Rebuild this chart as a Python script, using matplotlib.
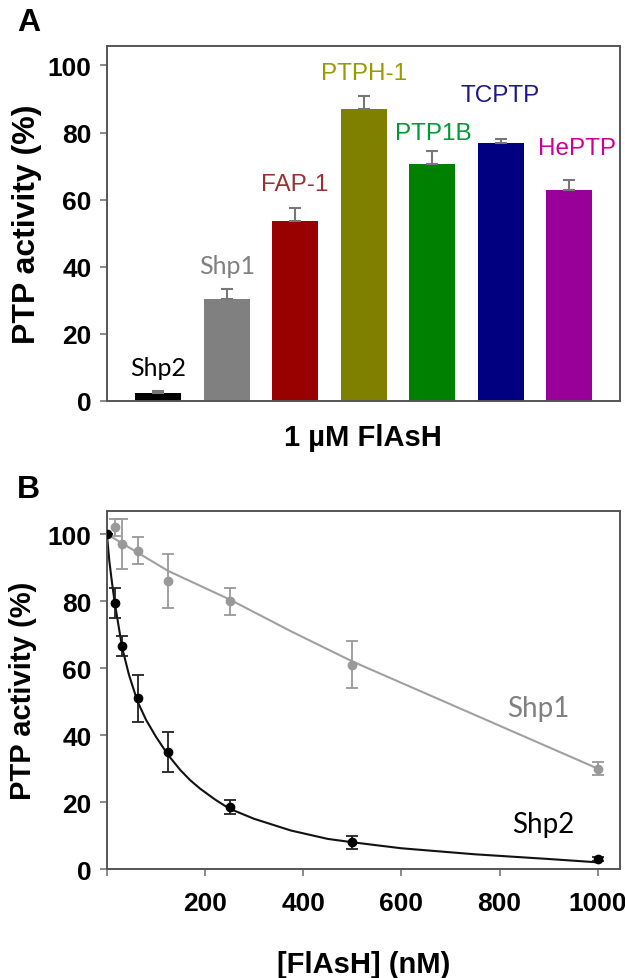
import matplotlib
matplotlib.use("Agg")
import matplotlib.pyplot as plt

plt.rcParams['font.family'] = ['Liberation Sans', 'DejaVu Sans']

# panel A data
enzymes = ['Shp2', 'Shp1', 'FAP-1', 'PTPH-1', 'PTP1B', 'TCPTP', 'HePTP']
activity = [2.5, 30.5, 53.5, 87.0, 70.5, 77.0, 63.0]
activity_err = [0.6, 3.0, 4.0, 4.0, 4.0, 1.0, 3.0]
bar_colors = ['#000000', '#808080', '#990000', '#808000', '#008000', '#000080', '#990099']
label_colors = ['#000000', '#808080', '#993333', '#999900', '#009933', '#1a1a8c', '#cc0099']
label_y = [6.5, 37, 61.5, 94.5, 76.5, 88, 72]
label_dx = [0, 0, 0, 0, 0.02, 0, 0.12]

# panel B data
conc = [0, 15.6, 31.25, 62.5, 125, 250, 500, 1000]
shp1 = [100, 102, 97, 95, 86, 80, 61, 30]
shp1_err = [0, 2.5, 7.5, 4, 8, 4, 7, 2]
shp2 = [100, 79.5, 66.5, 51, 35, 18.5, 8, 3]
shp2_err = [0, 4.5, 3, 7, 6, 2, 2, 0.5]

# fitted curves
fit1_x = [0, 62.5, 125, 250, 375, 500, 625, 750, 875, 1000]
fit1_y = [100, 94.5, 89, 80.5, 71, 62, 54, 46, 38, 30]
fit2_x = [0, 5, 10, 15.6, 20, 31.25, 45, 62.5, 80, 100, 125, 150, 170, 190, 220, 250,
          300, 375, 450, 500, 600, 750, 900, 1000]
fit2_y = [100, 92, 86, 80, 76, 66, 58, 50, 44.5, 39.5, 34, 29.5, 26.5, 24, 20.8, 18,
          15, 11.5, 9, 8, 6.2, 4.4, 3, 2]

fig = plt.figure(figsize=(6.25, 9.79), dpi=100)
spine_col = '#555555'
shp_font = ['Lato', 'DejaVu Sans']

# ---- panel A ----
axA = fig.add_axes([0.171, 0.5894, 0.8206, 0.3626])
xpos = list(range(len(enzymes)))
axA.bar(xpos, activity, width=0.67, color=bar_colors, zorder=2)
for i in xpos:
    axA.errorbar(i, activity[i], yerr=[[0], [activity_err[i]]], fmt='none',
                 ecolor='#777777', elinewidth=1.5, capsize=4, capthick=1.5, zorder=3)
    if enzymes[i].startswith('Shp'):
        axA.text(i + label_dx[i], label_y[i], enzymes[i], color=label_colors[i],
                 ha='center', va='bottom', fontsize=18, family=shp_font)
    else:
        axA.text(i + label_dx[i], label_y[i], enzymes[i], color=label_colors[i],
                 ha='center', va='bottom', fontsize=17.5)
axA.set_xlim(-0.75, 6.74)
axA.set_ylim(0, 105.8)
axA.set_yticks([0, 20, 40, 60, 80, 100])
axA.set_xticks([])
axA.set_ylabel('PTP activity (%)', fontsize=23, fontweight='bold', labelpad=4)
axA.set_xlabel('1 µM FlAsH', fontsize=21, fontweight='bold', labelpad=16)

# ---- panel B ----
axB = fig.add_axes([0.171, 0.1113, 0.8206, 0.3657])
axB.plot(fit1_x, fit1_y, color='#a0a0a0', lw=1.5, zorder=2)
axB.plot(fit2_x, fit2_y, color='#111111', lw=1.5, zorder=2)
axB.errorbar(conc, shp1, yerr=shp1_err, fmt='o', color='#999999', ms=6,
             ecolor='#999999', elinewidth=1.3, capsize=4, capthick=1.3, zorder=3)
axB.errorbar(conc, shp2, yerr=shp2_err, fmt='o', color='#000000', ms=6,
             ecolor='#222222', elinewidth=1.3, capsize=4, capthick=1.3, zorder=4)
axB.text(880, 48, 'Shp1', color='#808080', fontsize=20, ha='center', va='center', family=shp_font)
axB.text(890, 13.4, 'Shp2', color='#000000', fontsize=20, ha='center', va='center', family=shp_font)
axB.set_xlim(0, 1045)
axB.set_ylim(0, 106.9)
axB.set_xticks([0, 200, 400, 600, 800, 1000])
axB.set_xticklabels(['', '200', '400', '600', '800', '1000'])
axB.set_yticks([0, 20, 40, 60, 80, 100])
axB.set_ylabel('PTP activity (%)', fontsize=21, fontweight='bold', labelpad=8)
axB.set_xlabel('[FlAsH] (nM)', fontsize=21, fontweight='bold', labelpad=25)

for ax in (axA, axB):
    for s in ax.spines.values():
        s.set_color(spine_col)
        s.set_linewidth(1.4)
    ax.tick_params(direction='out', length=5, width=1.2, color='#777777',
                   labelsize=19, pad=6)
    for lab in ax.get_yticklabels() + ax.get_xticklabels():
        lab.set_fontweight('bold')
axB.tick_params(axis='x', pad=11)

fig.text(0.027, 0.968, 'A', fontsize=23, fontweight='bold', va='baseline')
fig.text(0.027, 0.491, 'B', fontsize=23, fontweight='bold', va='baseline')

fig.savefig('out.png', dpi=100)
